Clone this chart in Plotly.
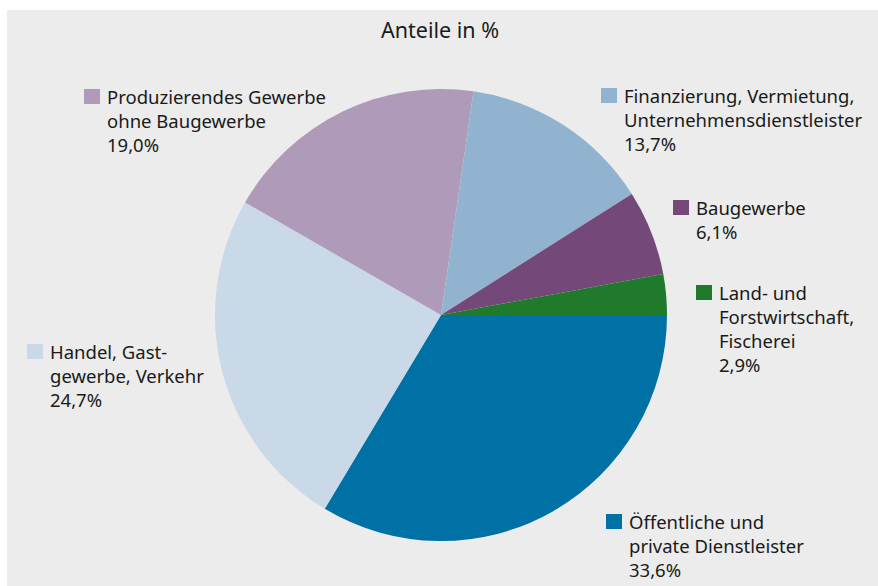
import plotly.graph_objects as go

# Sector shares of gross value added, percent
sectors = [
    "Land- und<br>Forstwirtschaft,<br>Fischerei",
    "Baugewerbe",
    "Finanzierung, Vermietung,<br>Unternehmensdienstleister",
    "Produzierendes Gewerbe<br>ohne Baugewerbe",
    "Handel, Gast-<br>gewerbe, Verkehr",
    "Öffentliche und<br>private Dienstleister",
]
shares = [2.9, 6.1, 13.7, 19.0, 24.7, 33.6]
colors = ["#1f7a2c", "#744879", "#92b3cf", "#b09ab9", "#c9d9e8", "#0071a4"]

W, H = 878, 586
BG = "#ebeceb"
FONT = "Noto Sans, Open Sans, sans-serif"

# label block anchors (pixel positions of the colour square's top-left corner)
label_pos = [
    (696, 285),
    (673, 200),
    (601, 88),
    (84, 89),
    (27, 344),
    (606, 514),
]

def px(x):
    return x / W

def py(y):
    return 1 - y / H

# Slices run clockwise from 3 o'clock, largest sector first
order = list(range(len(shares)))[::-1]
fig = go.Figure(
    go.Pie(
        values=[shares[i] for i in order],
        labels=[sectors[i].replace("<br>", " ") for i in order],
        marker=dict(colors=[colors[i] for i in order], line=dict(width=0)),
        sort=False,
        direction="clockwise",
        rotation=90,
        textinfo="none",
        hoverinfo="label+percent",
        showlegend=False,
        domain=dict(x=[px(215), px(667)], y=[py(541), py(89)]),
    )
)

shapes = [
    dict(type="rect", xref="paper", yref="paper", layer="below",
         x0=px(7), x1=1, y0=0, y1=py(10), fillcolor=BG, line=dict(width=0))
]
annotations = [
    dict(text="Anteile in %", xref="paper", yref="paper", x=px(440), y=py(30),
         xanchor="center", yanchor="middle", showarrow=False,
         font=dict(family=FONT, size=21.5, color="#1a1a1a"))
]
for name, val, col, (sx, sy) in zip(sectors, shares, colors, label_pos):
    shapes.append(dict(type="rect", xref="paper", yref="paper",
                       x0=px(sx), x1=px(sx + 16), y0=py(sy + 15), y1=py(sy),
                       fillcolor=col, line=dict(width=0)))
    txt = f"{name}<br>{val:.1f}%".replace(".", ",")
    annotations.append(dict(text=txt, xref="paper", yref="paper",
                            x=px(sx + 21), y=py(sy - 7), xanchor="left", yanchor="top",
                            align="left", showarrow=False,
                            font=dict(family=FONT, size=18.5, color="#1a1a1a")))

fig.update_layout(
    width=W, height=H,
    margin=dict(l=0, r=0, t=0, b=0),
    paper_bgcolor="white",
    plot_bgcolor="white",
    shapes=shapes,
    annotations=annotations,
)

fig.write_html("out.html")
